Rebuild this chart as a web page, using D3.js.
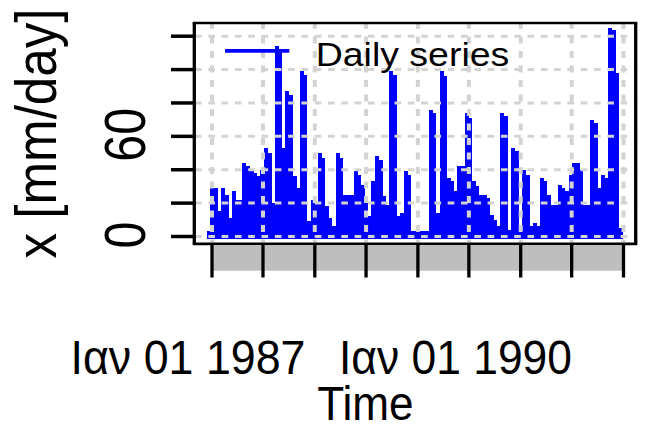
<!DOCTYPE html>
<html>
<head>
<meta charset="utf-8">
<script src="https://cdn.jsdelivr.net/npm/d3@7"></script>
<style>
  html, body { margin: 0; padding: 0; background: #ffffff; }
  svg { display: block; }
  text { font-family: "Liberation Sans", Arial, Helvetica, sans-serif; fill: #000; }
</style>
</head>
<body>
<svg id="chart" width="651" height="429"></svg>
<script>
// Daily precipitation, peak value of each successive ~12.7-day window (mm/day)
const seriesStart = new Date(1986, 11, 13);
const seriesEnd = new Date(1990, 11, 15);
const rain = [
  3, 29, 29, 15, 29, 25, 11, 27, 22, 22, 44, 42, 40, 38, 36, 40, 53, 50, 20, 114,
  112, 53, 87, 85, 36, 29, 99, 97, 9, 22, 20, 50, 47, 18, 11, 6, 50, 47,
  25, 25, 25, 39, 37, 31, 24, 12, 33, 48, 46, 24, 19, 99, 97, 12, 14, 39, 37,
  3, 3, 3, 3, 3, 76, 74, 14, 99, 96, 35, 33, 27, 42, 42, 74, 71, 33, 30, 25, 25,
  23, 13, 10, 6, 74, 72, 4, 53, 51, 4, 40, 37, 6, 8, 6, 35, 33, 25, 19, 19,
  31, 29, 27, 37, 44, 44, 40, 19, 19, 70, 68, 29, 37, 35, 125, 124, 98, 5
];

// Axis settings
const axisStart = new Date(1987, 0, 1);
const axisEnd = new Date(1991, 0, 1);
const yTicks = [0, 20, 40, 60, 80, 100, 120];
const yTickLabels = [0, 60];
const dateLabels = ["Ιαν 01 1987", "Ιαν 01 1990"];
const legendLabel = "Daily series";
const xTitle = "Time";
const yTitle = "x [mm/day]";

const svg = d3.select("#chart");

// Plot box
const box = { left: 194.3, right: 635.7, top: 23, bottom: 243.8 };

const x = d3.scaleTime().domain([axisStart, axisEnd]).range([212, 623.5]);
const y = d3.scaleLinear().domain([0, 120]).range([236.5, 36.2]);

const step = (seriesEnd - seriesStart) / (rain.length - 1);
const series = rain.map((v, i) => ({ date: new Date(+seriesStart + i * step), value: v }));
const barW = x(new Date(+axisStart + step)) - x(axisStart);

// Series drawn as thick vertical strokes from the zero line
svg.append("g")
  .attr("shape-rendering", "crispEdges")
  .selectAll("rect")
  .data(series)
  .join("rect")
  .attr("x", d => x(d.date))
  .attr("y", d => y(d.value))
  .attr("width", barW + 0.4)
  .attr("height", d => y(0) + 2.7 - y(d.value))
  .attr("fill", "#0000ff");

// Dotted grid on top of the series
const xTicks = x.ticks(d3.timeMonth.every(6));
const grid = svg.append("g").attr("stroke", "#d3d3d3").attr("fill", "none");
grid.selectAll("line.h")
  .data(yTicks)
  .join("line")
  .attr("class", "h")
  .attr("x1", 195).attr("x2", box.right - 1.5)
  .attr("y1", d => y(d)).attr("y2", d => y(d))
  .attr("stroke-width", 3)
  .attr("stroke-dasharray", "6.65 6.65");
grid.selectAll("line.v")
  .data(xTicks)
  .join("line")
  .attr("class", "v")
  .attr("x1", d => x(d)).attr("x2", d => x(d))
  .attr("y1", 22).attr("y2", box.bottom - 1.3)
  .attr("stroke-width", 4)
  .attr("stroke-dasharray", "7 7.5");

// Frame
const frame = svg.append("g").attr("stroke", "#000");
frame.append("line").attr("x1", box.left - 1.6).attr("x2", box.right + 1.6)
  .attr("y1", box.top).attr("y2", box.top).attr("stroke-width", 2.7);
frame.append("line").attr("x1", box.left - 1.6).attr("x2", box.right + 1.6)
  .attr("y1", box.bottom).attr("y2", box.bottom).attr("stroke-width", 2.7);
frame.append("line").attr("x1", box.left).attr("x2", box.left)
  .attr("y1", box.top).attr("y2", box.bottom).attr("stroke-width", 3.3);
frame.append("line").attr("x1", box.right).attr("x2", box.right)
  .attr("y1", box.top).attr("y2", box.bottom).attr("stroke-width", 3.3);

// Left axis ticks
svg.append("g").attr("stroke", "#000")
  .selectAll("line")
  .data(yTicks)
  .join("line")
  .attr("x1", 171).attr("x2", box.left)
  .attr("y1", d => y(d)).attr("y2", d => y(d))
  .attr("stroke-width", 3.5);

// Rotated left tick labels
svg.append("g")
  .selectAll("text")
  .data(yTickLabels)
  .join("text")
  .attr("transform", d => `translate(145,${y(d) - 1.5}) rotate(-90)`)
  .attr("text-anchor", "middle")
  .attr("font-size", 57)
  .attr("textLength", d => String(d).length * 27)
  .attr("lengthAdjust", "spacingAndGlyphs")
  .text(d => d);

// Grey time band with tick marks
svg.append("rect")
  .attr("x", x(axisStart)).attr("y", 245.2)
  .attr("width", x(axisEnd) - x(axisStart)).attr("height", 25.5)
  .attr("fill", "#bebebe");
svg.append("g").attr("stroke", "#000")
  .selectAll("line")
  .data(xTicks)
  .join("line")
  .attr("x1", d => x(d)).attr("x2", d => x(d))
  .attr("y1", 245).attr("y2", 277.5)
  .attr("stroke-width", 3.3);

// Date labels
const dateLabelPos = [{ x: 70.5, len: 235 }, { x: 339, len: 233 }];
svg.append("g")
  .selectAll("text")
  .data(dateLabels)
  .join("text")
  .attr("x", (d, i) => dateLabelPos[i].x)
  .attr("y", 373.5)
  .attr("font-size", 48.5)
  .attr("textLength", (d, i) => dateLabelPos[i].len)
  .attr("lengthAdjust", "spacingAndGlyphs")
  .text(d => d);

// Axis titles
svg.append("text")
  .attr("x", 317.2).attr("y", 419.5)
  .attr("font-size", 48)
  .attr("textLength", 96.5)
  .attr("lengthAdjust", "spacingAndGlyphs")
  .text(xTitle);

svg.append("text")
  .attr("transform", "translate(56,133.5) rotate(-90)")
  .attr("text-anchor", "middle")
  .attr("font-size", 57)
  .attr("textLength", 250)
  .attr("lengthAdjust", "spacingAndGlyphs")
  .text(yTitle);

// Legend
svg.append("line")
  .attr("x1", 225).attr("x2", 289.3)
  .attr("y1", 50.8).attr("y2", 50.8)
  .attr("stroke", "#0000ff").attr("stroke-width", 3.8);
svg.append("text")
  .attr("x", 315.7).attr("y", 65.5)
  .attr("font-size", 33)
  .attr("textLength", 193.6)
  .attr("lengthAdjust", "spacingAndGlyphs")
  .text(legendLabel);
</script>
</body>
</html>
